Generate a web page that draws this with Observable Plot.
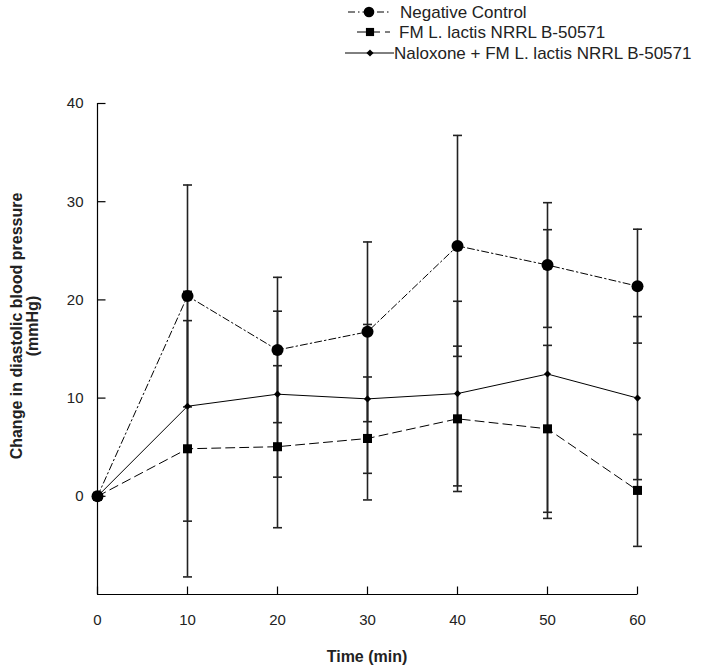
<!DOCTYPE html>
<html>
<head>
<meta charset="utf-8">
<script src="https://cdn.jsdelivr.net/npm/d3@7"></script>
<script src="https://cdn.jsdelivr.net/npm/@observablehq/plot@0.6"></script>
<style>
  body { margin: 0; background: #fff; }
  #wrap { position: relative; width: 701px; height: 670px; font-family: "Liberation Sans", Arial, sans-serif; color: #222; }
  #legend { position: absolute; left: 0; top: 0; }
  #chart { position: absolute; left: 0; top: 62px; }
  #ytitle { position: absolute; left: 24.5px; top: 326px; transform: translate(-50%, -50%) rotate(-90deg); white-space: nowrap; text-align: center; font-weight: bold; font-size: 16px; line-height: 16px; }
  #xtitle { position: absolute; left: 367px; top: 657px; transform: translate(-50%, -50%); white-space: nowrap; font-weight: bold; font-size: 16px; }
</style>
</head>
<body>
<div id="wrap">
  <svg id="legend" width="701" height="62"></svg>
  <div id="chart"></div>
  <div id="ytitle">Change in diastolic blood pressure<br>(mmHg)</div>
  <div id="xtitle">Time (min)</div>
</div>
<script>
// ---- data ----
const time = [0, 10, 20, 30, 40, 50, 60];
const seriesNames = ["Negative Control", "FM L. lactis NRRL B-50571", "Naloxone + FM L. lactis NRRL B-50571"];
const ncMean = [0, 20.4, 14.9, 16.75, 25.5, 23.55, 21.4];
const ncErr  = [0, 11.3, 7.4, 9.15, 11.25, 6.35, 5.8];
const fmMean = [0, 4.84, 5.05, 5.89, 7.89, 6.87, 0.6];
const fmErr  = [0, 13.05, 8.25, 6.26, 7.4, 8.5, 5.7];
const naxMean = [0, 9.17, 10.4, 9.92, 10.46, 12.45, 10.0];
const naxErr  = [0, 11.7, 8.45, 7.58, 9.4, 14.7, 8.3];
const xTicks = [0, 10, 20, 30, 40, 50, 60];
const yTicks = [0, 10, 20, 30, 40];
const yMin = -10, yMax = 40;

// ---- styles (kept apart from data) ----
const styles = {
  "Negative Control": {symbol: "circle", r: 6, dash: "7,3,1.5,3", legR: 5.3},
  "FM L. lactis NRRL B-50571": {symbol: "square", r: 5.1, dash: "9,5", legR: 4.6},
  "Naloxone + FM L. lactis NRRL B-50571": {symbol: "diamond2", r: 3.2, dash: null, legR: 3.2}
};

const means = [ncMean, fmMean, naxMean];
const errs = [ncErr, fmErr, naxErr];
const rows = seriesNames.flatMap((name, s) => time.map((t, i) => ({
  series: name, time: t, mean: means[s][i], err: errs[s][i],
  lo: means[s][i] - errs[s][i], hi: means[s][i] + errs[s][i]
})));
const withErr = rows.filter(d => d.err > 0);
const caps = withErr.flatMap(d => [{time: d.time, v: d.lo}, {time: d.time, v: d.hi}]);
const capSymbol = {draw(ctx) { ctx.moveTo(-4.5, 0); ctx.lineTo(4.5, 0); }};
const tickUp = {draw(ctx) { ctx.moveTo(0, 0); ctx.lineTo(0, -8); }};
const tickRight = {draw(ctx) { ctx.moveTo(0, 0); ctx.lineTo(8, 0); }};

const marks = [
  Plot.ruleY([yMin], {stroke: "#000", strokeWidth: 1.2}),
  Plot.ruleX([0], {stroke: "#000", strokeWidth: 1.2}),
  Plot.dot(xTicks, {x: d => d, y: () => yMin, symbol: tickUp, stroke: "#000", strokeWidth: 1.2}),
  Plot.dot(yTicks, {x: () => 0, y: d => d, symbol: tickRight, stroke: "#000", strokeWidth: 1.2}),
  Plot.axisX({ticks: xTicks, tickSize: 0, tickPadding: 20, tickFormat: d => String(d), fontSize: 15, label: null}),
  Plot.axisY({ticks: yTicks, tickSize: 0, tickPadding: 14, tickFormat: d => String(d), fontSize: 15, label: null}),
  Plot.ruleX(withErr, {x: "time", y1: "lo", y2: "hi", stroke: "#222", strokeWidth: 1.6}),
  Plot.dot(caps, {x: "time", y: "v", symbol: capSymbol, stroke: "#222", strokeWidth: 1.6})
];
for (const name of seriesNames) {
  const st = styles[name];
  marks.push(Plot.line(rows.filter(d => d.series === name), {x: "time", y: "mean", stroke: "#000", strokeWidth: 1, strokeDasharray: st.dash}));
}
for (const name of [...seriesNames].reverse()) {
  const st = styles[name];
  marks.push(Plot.dot(rows.filter(d => d.series === name), {x: "time", y: "mean", symbol: st.symbol, r: st.r, fill: "#000", stroke: "none"}));
}

const chart = Plot.plot({
  width: 701, height: 608,
  marginTop: 41, marginBottom: 76, marginLeft: 97, marginRight: 64,
  style: {fontFamily: "'Liberation Sans', Arial, sans-serif", fontSize: "15px", color: "#222", background: "#fff"},
  x: {domain: [0, 60]},
  y: {domain: [yMin, yMax]},
  marks
});
document.getElementById("chart").appendChild(chart);

// ---- legend ----
const leg = d3.select("#legend");
const legRows = [
  {y: 12, x1: 348, x2: 390, cx: 369, tx: 400},
  {y: 32, x1: 357, x2: 390, cx: 370, tx: 399},
  {y: 53, x1: 345, x2: 394, cx: 370, tx: 394}
];
const symMap = {circle: d3.symbolCircle, square: d3.symbolSquare, diamond2: d3.symbolDiamond2};
seriesNames.forEach((name, i) => {
  const st = styles[name], p = legRows[i];
  leg.append("line").attr("x1", p.x1).attr("x2", p.x2).attr("y1", p.y).attr("y2", p.y)
    .attr("stroke", "#000").attr("stroke-width", 1).attr("stroke-dasharray", st.dash);
  leg.append("path").attr("transform", `translate(${p.cx},${p.y})`)
    .attr("d", d3.symbol(symMap[st.symbol], st.legR * st.legR * Math.PI)()).attr("fill", "#000");
  leg.append("text").attr("x", p.tx).attr("y", p.y).attr("dy", "0.35em")
    .attr("font-size", 17).attr("fill", "#222").attr("font-family", "'Liberation Sans', Arial, sans-serif")
    .text(name);
});
</script>
</body>
</html>
